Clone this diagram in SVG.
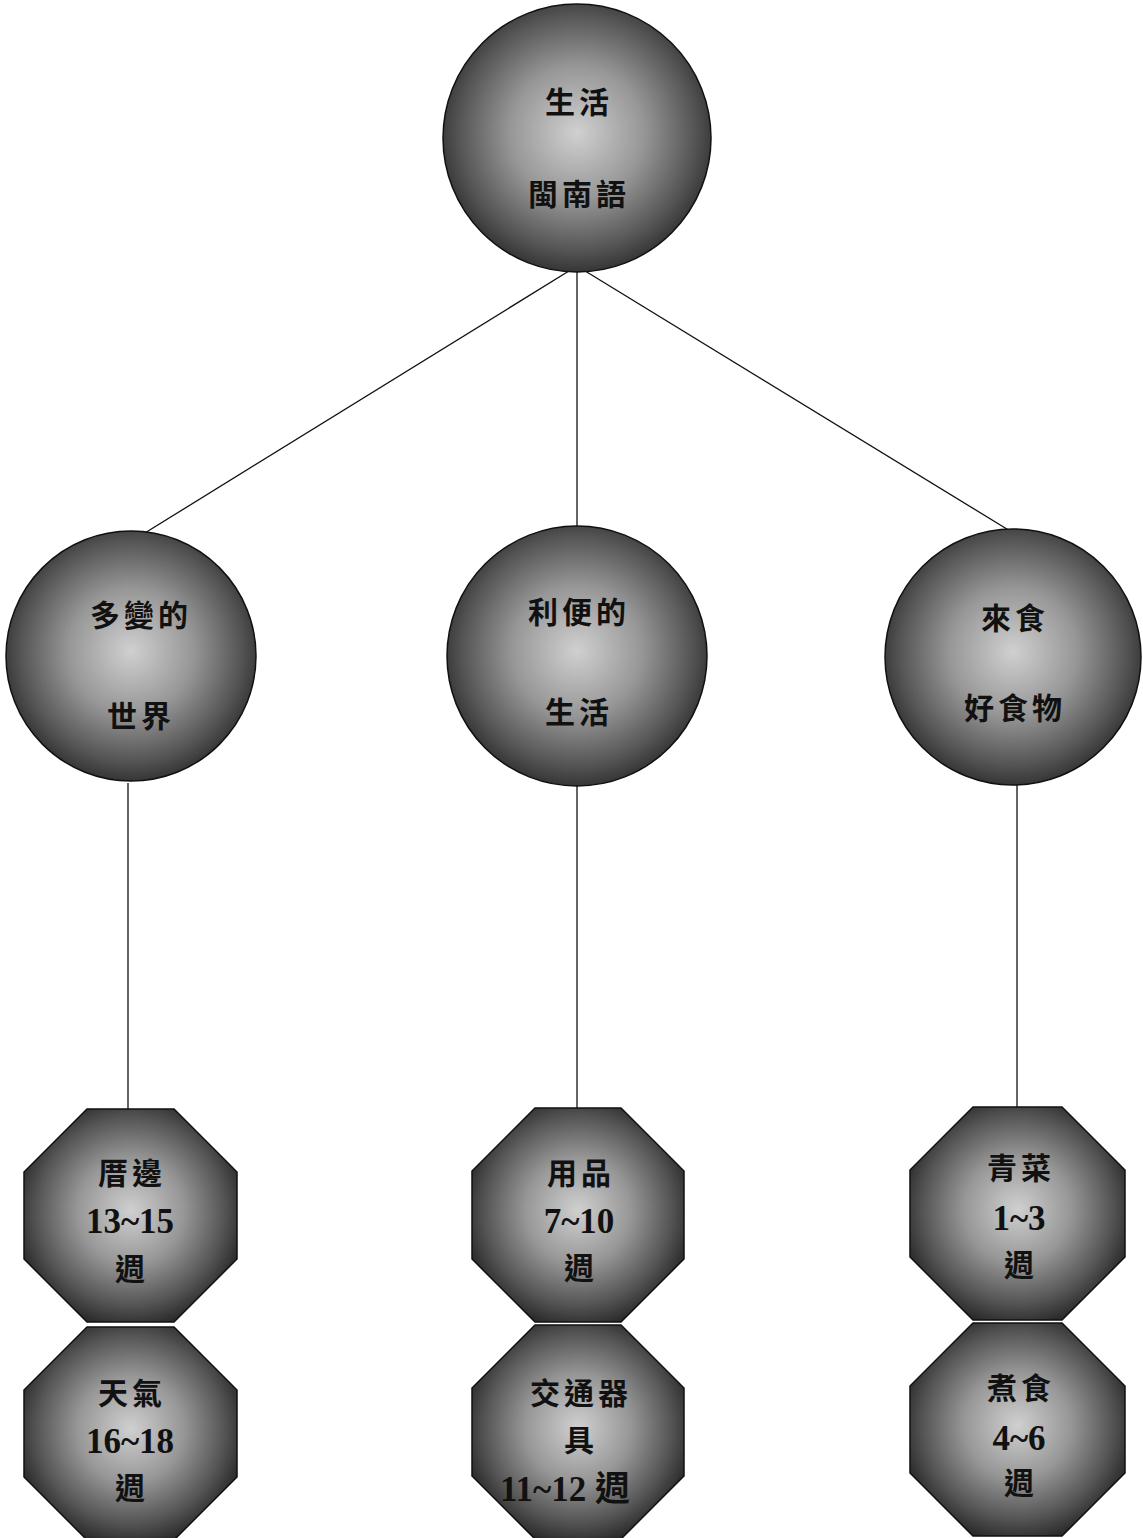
<svg xmlns="http://www.w3.org/2000/svg" width="1143" height="1538" viewBox="0 0 1143 1538">
<defs>
<radialGradient id="g" cx="50%" cy="48%" r="55%">
<stop offset="0" stop-color="#d0d0d0"/>
<stop offset="0.45" stop-color="#979797"/>
<stop offset="0.8" stop-color="#555"/>
<stop offset="1" stop-color="#2a2a2a"/>
</radialGradient>
<style>
.n{fill:url(#g);stroke:#111;stroke-width:1.5}
.t{font-family:"Liberation Serif","Noto Sans CJK TC",serif;font-weight:bold;font-size:30px;fill:#111;text-anchor:middle;letter-spacing:4px}
.d{font-family:"Liberation Serif","Noto Sans CJK TC",serif;font-weight:bold;font-size:35px;fill:#111;text-anchor:middle;letter-spacing:0}
.c line{stroke:#111;stroke-width:1.3}
</style>
</defs>
<rect width="1143" height="1538" fill="#fff"/>
<g class="c" id="connectors">
<line x1="577" y1="266" x2="140" y2="536"/>
<line x1="577" y1="266" x2="577" y2="526"/>
<line x1="577" y1="266" x2="1015" y2="534"/>
<line x1="128" y1="783" x2="128" y2="1109"/>
<line x1="577" y1="785" x2="577" y2="1108"/>
<line x1="1017" y1="784" x2="1017" y2="1107"/>
</g>
<g id="root">
<circle class="n" cx="577" cy="138" r="134"/>
<text class="t" x="579" y="113">生活</text>
<text class="t" x="579" y="205">閩南語</text>
</g>
<g id="n1">
<circle class="n" cx="131" cy="656" r="125"/>
<text class="t" x="141" y="626">多變的</text>
<text class="t" x="141" y="727">世界</text>
</g>
<g id="n2">
<circle class="n" cx="577" cy="656" r="130"/>
<text class="t" x="579" y="623">利便的</text>
<text class="t" x="579" y="723">生活</text>
</g>
<g id="n3">
<circle class="n" cx="1013" cy="657" r="128"/>
<text class="t" x="1015" y="629">來食</text>
<text class="t" x="1015" y="719">好食物</text>
</g>
<g id="o1">
<polygon class="n" points="87,1109 174,1109 237,1172 237,1259 174,1322 87,1322 24,1259 24,1172"/>
<text class="t" x="132" y="1184">厝邊</text>
<text class="d" x="130" y="1233">13~15</text>
<text class="t" x="132" y="1280">週</text>
</g>
<g id="o2">
<polygon class="n" points="87,1327 174,1327 237,1390 237,1477 174,1540 87,1540 24,1477 24,1390"/>
<text class="t" x="132" y="1404">天氣</text>
<text class="d" x="130" y="1453">16~18</text>
<text class="t" x="132" y="1499">週</text>
</g>
<g id="o3">
<polygon class="n" points="535,1108 621,1108 684,1171 684,1259 621,1322 535,1322 472,1259 472,1171"/>
<text class="t" x="581" y="1184">用品</text>
<text class="d" x="579" y="1233">7~10</text>
<text class="t" x="581" y="1279">週</text>
</g>
<g id="o4">
<polygon class="n" points="535,1325 621,1325 684,1388 684,1476 621,1539 535,1539 472,1476 472,1388"/>
<text class="t" x="581" y="1404">交通器</text>
<text class="t" x="581" y="1451">具</text>
<text class="d" x="565" y="1501">11~12 週</text>
</g>
<g id="o5">
<polygon class="n" points="973,1107 1062,1107 1125,1170 1125,1257 1062,1320 973,1320 910,1257 910,1170"/>
<text class="t" x="1021" y="1179">青菜</text>
<text class="d" x="1019" y="1230">1~3</text>
<text class="t" x="1021" y="1276">週</text>
</g>
<g id="o6">
<polygon class="n" points="973,1323 1062,1323 1125,1386 1125,1473 1062,1536 973,1536 910,1473 910,1386"/>
<text class="t" x="1021" y="1399">煮食</text>
<text class="d" x="1019" y="1450">4~6</text>
<text class="t" x="1021" y="1494">週</text>
</g>
</svg>
